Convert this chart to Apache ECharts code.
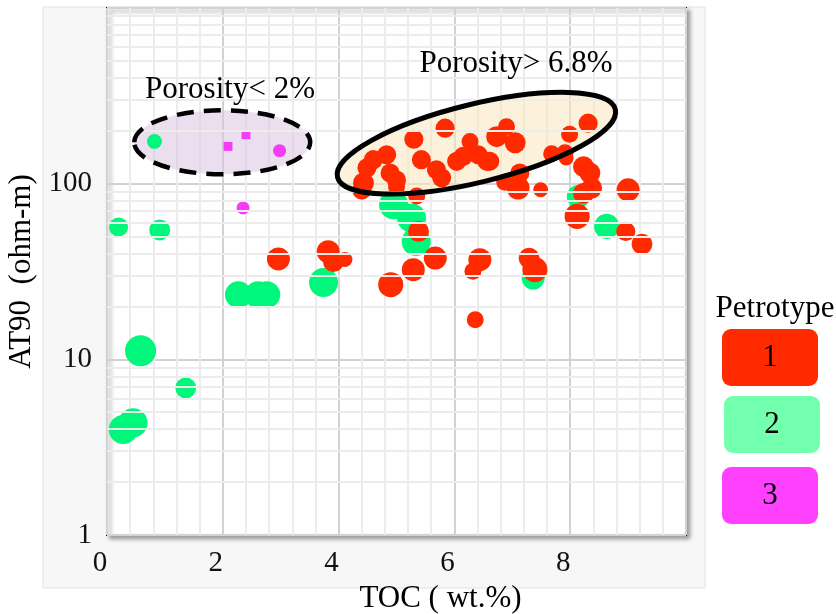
<!DOCTYPE html>
<html><head><meta charset="utf-8">
<script src="https://cdn.jsdelivr.net/npm/echarts@6/dist/echarts.min.js"></script>
<style>html,body{margin:0;padding:0;background:#fff}#c{width:836px;height:614px}</style>
</head><body><div id="c"></div><script>
// ---- data (TOC wt.%, AT90 ohm-m, relative marker weight) ----
const petrotypes = ['1', '2', '3'];
const type1Points = [
  [2.96,37.3,6],[3.82,41,6],[3.91,36,5.3],[4.11,37,3.3],[5.38,53.5,5.3],[5.67,37.7,6],
  [5.29,32.4,6],[4.9,26.6,6.7],[6.44,36.9,6],[6.32,31.7,4],[6.36,16.8,4],[7.29,37.7,5.3],
  [7.39,32.4,6.7],[8.12,65.1,6.7],[8.96,53.5,4.7],[9.24,45.3,5.3],[8.31,221,4.7],[7.99,191,4],
  [7.68,148,4],[7.91,150,4],[7.93,140,3.3],[8.23,125,5.3],[8.34,115,5.3],[8.37,94.4,5.3],
  [8.23,88,5.3],[9.0,92.3,6],[7.49,92.3,3.3],[7.1,94.4,6],[7.13,115,4.7],[6.87,102,4],
  [6.9,211,4],[6.73,185,5.3],[7.05,171,5.3],[6.61,134,4.7],[5.84,207,4.7],[5.3,179,4.7],
  [6.27,174,4],[5.43,137,4.7],[4.83,146,4.7],[4.6,137,4.7],[4.49,123,4.7],[4.89,115,4.7],
  [5.0,105,4.7],[4.43,101,5.3],[4.4,92,4.7],[5.0,96,4],[5.69,120,4.7],[5.78,108,4.7],
  [6.04,134,4.7],[6.15,143,4.7],[6.41,146,4.7],[6.56,134,4.7],[5.35,85,4]
];
const type2Points = [
  [0.82,174,3.3],[0.2,56.6,4.7],[0.91,54.5,5.3],[2.27,23.3,7.3],[2.61,23.3,7.3],[2.76,23.3,7.3],
  [3.74,27.4,8],[0.58,11.2,8.7],[1.36,6.88,5.3],[0.28,3.98,8],[0.45,4.35,8],[4.95,75.9,8],
  [5.26,63.7,8],[5.34,46.9,8],[7.36,29,6],[8.63,57.1,6.7],[8.14,84.6,6]
];
const type3Points = [[2.09,163,1.3],[2.4,190,1.3],[2.98,154,2.7],[2.35,72.7,2.7]];
const xTickLabels = ['0', '2', '4', '6', '8'];
const yTickLabels = ['1', '10', '100'];
const yMinorGrid = [2,3,4,5,6,7,8,9,20,30,40,50,60,70,80,90,200,300,400,500,600,700,800,900];
const annotationTexts = ['Porosity< 2%', 'Porosity> 6.8%'];
const annotationCenters = [[1.99, 172], [6.38, 170]];
const legendTitle = 'Petrotype';

// ---- styling ----
const FONT = "'Liberation Serif', 'Times New Roman', serif";
const colors = ['#ff2a00', '#00f77b', '#f53cf5'];
const legendColors = ['#ff2a00', '#72ffae', '#ff40ff'];

const chart = echarts.init(document.getElementById('c'), null, {renderer: 'canvas'});

const sizeFn = v => 5 + 3 * v[2];
function scatter(name, data, color) {
  return {
    name, type: 'scatter', data, z: 2,
    symbol: v => (v[2] < 2 ? 'rect' : 'circle'),
    symbolSize: sizeFn,
    itemStyle: {color, opacity: 1, borderWidth: 0, borderColor: color},
    emphasis: {disabled: true}
  };
}

chart.setOption({
  animation: false,
  backgroundColor: '#ffffff',
  grid: {
    left: 107, right: 150, top: 8, bottom: 79,
    outerBoundsMode: 'none', containLabel: false,
    show: true, backgroundColor: '#ffffff', borderColor: '#111', borderWidth: 2,
    shadowColor: 'rgba(0,0,0,0.35)', shadowBlur: 4, shadowOffsetX: 3, shadowOffsetY: 3
  },
  xAxis: {
    type: 'value', min: 0, max: 10, interval: 2,
    name: 'TOC ( wt.%)', nameLocation: 'middle', nameGap: 47,
    nameTextStyle: {fontFamily: FONT, fontSize: 31, color: '#000', padding: [0, 0, 0, 88]},
    axisLine: {show: false}, axisTick: {show: false},
    minorTick: {show: false, splitNumber: 5},
    minorSplitLine: {show: true, lineStyle: {color: '#ececec', width: 2}},
    splitLine: {show: true, lineStyle: {color: '#d2d2d2', width: 2}},
    axisLabel: {
      margin: 14, fontFamily: FONT, fontSize: 29, color: '#111', padding: [0, 14, 0, 0],
      formatter: v => (xTickLabels.includes(String(v)) ? String(v) : '')
    }
  },
  yAxis: {
    type: 'log', logBase: 10, min: 1, max: 1000,
    name: 'AT90  (ohm-m)', nameLocation: 'middle', nameGap: 54,
    nameTextStyle: {fontFamily: FONT, fontSize: 31, color: '#000'},
    axisLine: {show: false}, axisTick: {show: false},
    splitLine: {show: true, lineStyle: {color: '#d2d2d2', width: 2}},
    axisLabel: {
      margin: 15, fontFamily: FONT, fontSize: 29, color: '#111',
      formatter: v => (yTickLabels.includes(String(v)) ? String(v) : '')
    }
  },
  series: [
    {
      type: 'line', data: [[0, 1]], z: 0, silent: true, showSymbol: false,
      lineStyle: {opacity: 0},
      markLine: {
        silent: true, symbol: ['none', 'none'], label: {show: false}, animation: false,
        lineStyle: {color: '#ececec', width: 2, type: 'solid'},
        emphasis: {disabled: true},
        data: yMinorGrid.map(v => ({yAxis: v}))
      }
    },
    scatter(petrotypes[1], type2Points, colors[1]),
    scatter(petrotypes[0], type1Points, colors[0]),
    scatter(petrotypes[2], type3Points, colors[2])
  ]
});

const c0 = chart.convertToPixel({gridIndex: 0}, annotationCenters[0]);
const c1 = chart.convertToPixel({gridIndex: 0}, annotationCenters[1]);
const rot = 13.7 * Math.PI / 180;

const legendItems = [];
const boxes = [[722, 329], [724, 396], [722, 467]];
petrotypes.forEach((p, i) => {
  legendItems.push({
    type: 'rect', z: 5,
    shape: {x: boxes[i][0], y: boxes[i][1], width: 96, height: 57, r: 9},
    style: {fill: legendColors[i]}
  });
  legendItems.push({
    type: 'text', z: 6,
    x: boxes[i][0] + 48, y: boxes[i][1] + 29,
    style: {text: p, fontFamily: FONT, fontSize: 31, fill: '#000', align: 'center', verticalAlign: 'middle'}
  });
});

chart.setOption({
  graphic: [
    {type: 'rect', z: -10, silent: true,
     shape: {x: 43, y: 7, width: 662, height: 581},
     style: {fill: '#f7f7f7', stroke: '#e2e2e2', lineWidth: 1}},
    {type: 'ellipse', z: 1, silent: true, x: c0[0], y: c0[1],
     shape: {cx: 0, cy: 0, rx: 88, ry: 32},
     style: {fill: 'rgba(218,196,226,0.55)'}},
    {type: 'ellipse', z: 1, silent: true, x: c1[0], y: c1[1], rotation: rot,
     shape: {cx: 0, cy: 0, rx: 143, ry: 39},
     style: {fill: 'rgba(250,232,190,0.55)'}},
    {type: 'ellipse', z: 5, silent: true, x: c0[0], y: c0[1],
     shape: {cx: 0, cy: 0, rx: 88, ry: 32},
     style: {fill: 'none', stroke: '#000', lineWidth: 4.5, lineDash: [17, 10]}},
    {type: 'ellipse', z: 5, silent: true, x: c1[0], y: c1[1], rotation: rot,
     shape: {cx: 0, cy: 0, rx: 143, ry: 39},
     style: {fill: 'none', stroke: '#000', lineWidth: 5}},
    {type: 'text', z: 6, x: 230, y: 90,
     style: {text: annotationTexts[0], fontFamily: FONT, fontSize: 31, fill: '#000', align: 'center', verticalAlign: 'middle'}},
    {type: 'text', z: 6, x: 516, y: 64,
     style: {text: annotationTexts[1], fontFamily: FONT, fontSize: 31, fill: '#000', align: 'center', verticalAlign: 'middle'}},
    {type: 'text', z: 6, x: 775, y: 309,
     style: {text: legendTitle, fontFamily: FONT, fontSize: 31, fill: '#000', align: 'center', verticalAlign: 'middle'}}
  ].concat(legendItems)
});
</script></body></html>
